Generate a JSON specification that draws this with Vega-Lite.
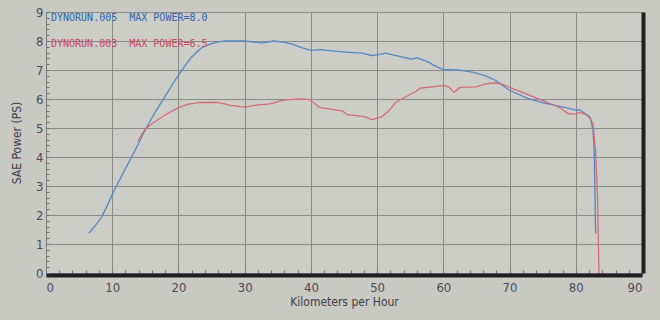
{
  "$schema": "https://vega.github.io/schema/vega-lite/v6.json",
  "width": 596,
  "height": 261,
  "autosize": {"type": "none"},
  "padding": {"left": 46, "top": 12, "right": 18, "bottom": 47},
  "background": "#c9c9c3",
  "config": {
    "view": {"fill": "#cdcdc7", "stroke": "#7a7a78", "strokeWidth": 1},
    "font": "Liberation Sans Narrow, DejaVu Sans Condensed, Liberation Sans, sans-serif",
    "axis": {
      "labelFont": "Liberation Sans Narrow, DejaVu Sans Condensed, Liberation Sans, sans-serif",
      "titleFont": "Liberation Sans Narrow, DejaVu Sans Condensed, Liberation Sans, sans-serif",
      "labelColor": "#4a4a55",
      "titleColor": "#3e3e48",
      "titleFontWeight": "normal",
      "labelOverlap": false,
      "labelBound": false,
      "gridColor": "#8a8a88",
      "gridWidth": 1,
      "tickColor": "#707070"
    }
  },
  "data": {
    "values": [
      {"run": "DYNORUN.005", "km": 6.5, "ps": 1.38},
      {"run": "DYNORUN.005", "km": 7.5, "ps": 1.65},
      {"run": "DYNORUN.005", "km": 8.4, "ps": 1.93},
      {"run": "DYNORUN.005", "km": 9.3, "ps": 2.35},
      {"run": "DYNORUN.005", "km": 10.2, "ps": 2.8},
      {"run": "DYNORUN.005", "km": 12, "ps": 3.6},
      {"run": "DYNORUN.005", "km": 13.5, "ps": 4.25},
      {"run": "DYNORUN.005", "km": 15, "ps": 4.95},
      {"run": "DYNORUN.005", "km": 16.5, "ps": 5.55},
      {"run": "DYNORUN.005", "km": 18, "ps": 6.1},
      {"run": "DYNORUN.005", "km": 19.5, "ps": 6.65},
      {"run": "DYNORUN.005", "km": 21, "ps": 7.15},
      {"run": "DYNORUN.005", "km": 22, "ps": 7.45},
      {"run": "DYNORUN.005", "km": 23.4, "ps": 7.75},
      {"run": "DYNORUN.005", "km": 24.9, "ps": 7.9},
      {"run": "DYNORUN.005", "km": 26, "ps": 7.97},
      {"run": "DYNORUN.005", "km": 27, "ps": 8.0},
      {"run": "DYNORUN.005", "km": 30, "ps": 8.0},
      {"run": "DYNORUN.005", "km": 31.5, "ps": 7.96},
      {"run": "DYNORUN.005", "km": 32.5, "ps": 7.93},
      {"run": "DYNORUN.005", "km": 34.4, "ps": 8.0},
      {"run": "DYNORUN.005", "km": 36, "ps": 7.95},
      {"run": "DYNORUN.005", "km": 37.3, "ps": 7.88},
      {"run": "DYNORUN.005", "km": 38.5, "ps": 7.78},
      {"run": "DYNORUN.005", "km": 40, "ps": 7.68},
      {"run": "DYNORUN.005", "km": 41.5, "ps": 7.7},
      {"run": "DYNORUN.005", "km": 42.4, "ps": 7.68},
      {"run": "DYNORUN.005", "km": 44, "ps": 7.64},
      {"run": "DYNORUN.005", "km": 45.8, "ps": 7.61},
      {"run": "DYNORUN.005", "km": 47.7, "ps": 7.58},
      {"run": "DYNORUN.005", "km": 49.2, "ps": 7.5},
      {"run": "DYNORUN.005", "km": 50.2, "ps": 7.53},
      {"run": "DYNORUN.005", "km": 51.3, "ps": 7.58},
      {"run": "DYNORUN.005", "km": 52.2, "ps": 7.53},
      {"run": "DYNORUN.005", "km": 53.2, "ps": 7.48},
      {"run": "DYNORUN.005", "km": 55.1, "ps": 7.38},
      {"run": "DYNORUN.005", "km": 56.1, "ps": 7.42},
      {"run": "DYNORUN.005", "km": 57.6, "ps": 7.29},
      {"run": "DYNORUN.005", "km": 59.1, "ps": 7.1},
      {"run": "DYNORUN.005", "km": 60, "ps": 7.02},
      {"run": "DYNORUN.005", "km": 61.9, "ps": 7.0},
      {"run": "DYNORUN.005", "km": 63, "ps": 6.98},
      {"run": "DYNORUN.005", "km": 64.4, "ps": 6.93},
      {"run": "DYNORUN.005", "km": 65.5, "ps": 6.86},
      {"run": "DYNORUN.005", "km": 66.4, "ps": 6.8},
      {"run": "DYNORUN.005", "km": 67.9, "ps": 6.64},
      {"run": "DYNORUN.005", "km": 70, "ps": 6.3},
      {"run": "DYNORUN.005", "km": 72.6, "ps": 6.03},
      {"run": "DYNORUN.005", "km": 75.2, "ps": 5.86},
      {"run": "DYNORUN.005", "km": 76.7, "ps": 5.79},
      {"run": "DYNORUN.005", "km": 78.7, "ps": 5.69},
      {"run": "DYNORUN.005", "km": 80, "ps": 5.62},
      {"run": "DYNORUN.005", "km": 80.6, "ps": 5.62},
      {"run": "DYNORUN.005", "km": 81.4, "ps": 5.5},
      {"run": "DYNORUN.005", "km": 82.2, "ps": 5.37},
      {"run": "DYNORUN.005", "km": 82.6, "ps": 4.93},
      {"run": "DYNORUN.005", "km": 82.8, "ps": 4.1},
      {"run": "DYNORUN.005", "km": 82.9, "ps": 2.7},
      {"run": "DYNORUN.005", "km": 83.0, "ps": 1.35},
      {"run": "DYNORUN.003", "km": 13.9, "ps": 4.55},
      {"run": "DYNORUN.003", "km": 14.5, "ps": 4.8},
      {"run": "DYNORUN.003", "km": 15.2, "ps": 5.0},
      {"run": "DYNORUN.003", "km": 16, "ps": 5.15},
      {"run": "DYNORUN.003", "km": 17, "ps": 5.3},
      {"run": "DYNORUN.003", "km": 18, "ps": 5.45},
      {"run": "DYNORUN.003", "km": 19, "ps": 5.58},
      {"run": "DYNORUN.003", "km": 20, "ps": 5.7},
      {"run": "DYNORUN.003", "km": 21.5, "ps": 5.82},
      {"run": "DYNORUN.003", "km": 23.4, "ps": 5.88},
      {"run": "DYNORUN.003", "km": 25.9, "ps": 5.88},
      {"run": "DYNORUN.003", "km": 27.9, "ps": 5.78},
      {"run": "DYNORUN.003", "km": 30, "ps": 5.72},
      {"run": "DYNORUN.003", "km": 32, "ps": 5.8},
      {"run": "DYNORUN.003", "km": 33.9, "ps": 5.83},
      {"run": "DYNORUN.003", "km": 35.8, "ps": 5.96},
      {"run": "DYNORUN.003", "km": 38.3, "ps": 6.0},
      {"run": "DYNORUN.003", "km": 39.8, "ps": 5.98},
      {"run": "DYNORUN.003", "km": 40.8, "ps": 5.8},
      {"run": "DYNORUN.003", "km": 41.4, "ps": 5.7},
      {"run": "DYNORUN.003", "km": 43.3, "ps": 5.64},
      {"run": "DYNORUN.003", "km": 44.8, "ps": 5.58},
      {"run": "DYNORUN.003", "km": 45.5, "ps": 5.46},
      {"run": "DYNORUN.003", "km": 47.2, "ps": 5.42},
      {"run": "DYNORUN.003", "km": 48.2, "ps": 5.38},
      {"run": "DYNORUN.003", "km": 49.2, "ps": 5.29},
      {"run": "DYNORUN.003", "km": 50.7, "ps": 5.38},
      {"run": "DYNORUN.003", "km": 51.8, "ps": 5.6},
      {"run": "DYNORUN.003", "km": 52.8, "ps": 5.88},
      {"run": "DYNORUN.003", "km": 54.2, "ps": 6.06},
      {"run": "DYNORUN.003", "km": 55.7, "ps": 6.24},
      {"run": "DYNORUN.003", "km": 56.6, "ps": 6.38},
      {"run": "DYNORUN.003", "km": 58.7, "ps": 6.43},
      {"run": "DYNORUN.003", "km": 60.2, "ps": 6.47},
      {"run": "DYNORUN.003", "km": 60.9, "ps": 6.4},
      {"run": "DYNORUN.003", "km": 61.6, "ps": 6.23},
      {"run": "DYNORUN.003", "km": 62.5, "ps": 6.4},
      {"run": "DYNORUN.003", "km": 65, "ps": 6.42},
      {"run": "DYNORUN.003", "km": 66.4, "ps": 6.52},
      {"run": "DYNORUN.003", "km": 67.8, "ps": 6.56},
      {"run": "DYNORUN.003", "km": 69, "ps": 6.5},
      {"run": "DYNORUN.003", "km": 70.6, "ps": 6.35},
      {"run": "DYNORUN.003", "km": 72.6, "ps": 6.17},
      {"run": "DYNORUN.003", "km": 75.2, "ps": 5.93},
      {"run": "DYNORUN.003", "km": 77.7, "ps": 5.69},
      {"run": "DYNORUN.003", "km": 78.8, "ps": 5.5},
      {"run": "DYNORUN.003", "km": 79.8, "ps": 5.48},
      {"run": "DYNORUN.003", "km": 80.6, "ps": 5.54},
      {"run": "DYNORUN.003", "km": 81.4, "ps": 5.48},
      {"run": "DYNORUN.003", "km": 82.1, "ps": 5.35},
      {"run": "DYNORUN.003", "km": 82.6, "ps": 5.14},
      {"run": "DYNORUN.003", "km": 83.0, "ps": 4.2},
      {"run": "DYNORUN.003", "km": 83.3, "ps": 2.5},
      {"run": "DYNORUN.003", "km": 83.5, "ps": 0}
    ]
  },
  "encoding": {
    "x": {
      "field": "km",
      "type": "quantitative",
      "scale": {"domain": [0, 90], "nice": false, "zero": false},
      "axis": {
        "title": "Kilometers per Hour",
        "values": [0,2,4,6,8,10,12,14,16,18,20,22,24,26,28,30,32,34,36,38,40,42,44,46,48,50,52,54,56,58,60,62,64,66,68,70,72,74,76,78,80,82,84,86,88,90],
        "labelExpr": "datum.value % 10 == 0 ? datum.value + '' : ''",
        "gridOpacity": {"condition": {"test": "datum.value % 10 == 0", "value": 1}, "value": 0},
        "tickSize": -5,
        "offset": 2,
        "domainWidth": 4,
        "domainColor": "#202022",
        "labelFontSize": 13,
        "labelPadding": 11,
        "titleFontSize": 12,
        "titlePadding": 2
      }
    },
    "color": {
      "field": "run",
      "type": "nominal",
      "scale": {"domain": ["DYNORUN.005", "DYNORUN.003"], "range": ["#5288c4", "#d66a78"]},
      "legend": {
        "orient": "top-left",
        "offset": 1,
        "title": null,
        "padding": 0,
        "symbolSize": 0,
        "symbolOpacity": 0,
        "symbolStrokeWidth": 0,
        "labelOffset": -6,
        "labelFont": "DejaVu Sans Mono",
        "labelFontSize": 10,
        "labelLimit": 400,
        "rowPadding": 16,
        "labelExpr": "datum.label == 'DYNORUN.005' ? 'DYNORUN.005\u00a0\u00a0MAX\u00a0POWER=8.0' : 'DYNORUN.003\u00a0\u00a0MAX\u00a0POWER=6.5'",
        "encode": {
          "labels": {
            "update": {
              "fill": {"signal": "datum.value == 'DYNORUN.005' ? '#2f63ad' : '#c64a5c'"}
            }
          }
        }
      }
    }
  },
  "layer": [
    {
      "transform": [{"filter": "datum.run == 'DYNORUN.005'"}],
      "mark": {"type": "line", "strokeWidth": 1.3},
      "encoding": {
        "y": {
          "field": "ps",
          "type": "quantitative",
          "scale": {"domain": [0, 9], "nice": false},
          "axis": {
            "title": "SAE Power (PS)",
            "values": [0,0.2,0.4,0.6,0.8,1,1.2,1.4,1.6,1.8,2,2.2,2.4,2.6,2.8,3,3.2,3.4,3.6,3.8,4,4.2,4.4,4.6,4.8,5,5.2,5.4,5.6,5.8,6,6.2,6.4,6.6,6.8,7,7.2,7.4,7.6,7.8,8,8.2,8.4,8.6,8.8,9],
            "labelExpr": "round(datum.value) == datum.value ? datum.value + '' : ''",
            "gridOpacity": {"condition": {"test": "round(datum.value) == datum.value", "value": 1}, "value": 0},
            "tickSize": -3,
            "domainColor": "#7a7a78",
            "labelFontSize": 13,
            "labelPadding": 6,
            "titleFontSize": 12,
            "titlePadding": 12
          }
        }
      }
    },
    {
      "transform": [{"filter": "datum.run == 'DYNORUN.003'"}],
      "mark": {"type": "line", "strokeWidth": 1.3},
      "encoding": {
        "y": {
          "field": "ps",
          "type": "quantitative",
          "axis": {
            "orient": "right",
            "title": null,
            "labels": false,
            "ticks": false,
            "grid": false,
            "offset": 1,
            "domainWidth": 4,
            "domainColor": "#202022"
          }
        }
      }
    }
  ],
  "resolve": {"axis": {"y": "independent"}}
}
